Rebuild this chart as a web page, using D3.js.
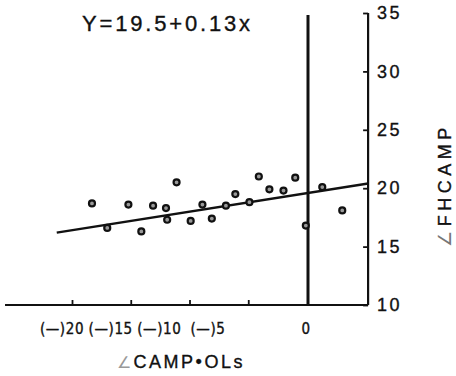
<!DOCTYPE html>
<html>
<head>
<meta charset="utf-8">
<script src="https://cdn.jsdelivr.net/npm/d3@7"></script>
<style>
  body { margin: 0; background: #fff; }
  svg { display: block; }
  text { font-family: "Liberation Sans", Arial, sans-serif; fill: #111; stroke: #111; stroke-width: 0.35px; }
</style>
</head>
<body>
<svg id="chart" width="456" height="376"></svg>
<script>
// data
const pointX = [-18.3, -15.2, -13.1, -12.0, -11.1, -17.0, -14.1, -11.9, -9.9, -8.9, -8.1,
                -6.9, -6.1, -4.9, -4.1, -3.2, -2.0, -1.0, -0.1, 1.3, 3.0];
const pointY = [18.7, 18.6, 18.5, 18.3, 20.5, 16.6, 16.3, 17.3, 17.2, 18.6, 17.4,
                18.5, 19.5, 18.8, 21.0, 19.9, 19.8, 20.9, 16.8, 20.1, 18.1];
const fitX = [-21.3, 5.2];
const fitY = [16.2, 20.4];
const xTicks = [-20, -15, -10, -5, 0];
const xTickLabels = ['(—)20', '(—)15', '(—)10', '(—)5', '0'];
const yTicks = [10, 15, 20, 25, 30, 35];
const xDomain = [-25.7, 5.2];
const yDomain = [10, 35];
const equation = 'Y=19.5+0.13x';

const svg = d3.select('#chart');

const x = d3.scaleLinear().domain([-20, 0]).range([72, 307]);
const y = d3.scaleLinear().domain(yDomain).range([305, 13]);

// labels under the x axis are typed closer together than the ticks
const labelX = d3.scaleLinear().domain([-20, -5]).range([62, 208]);

// x axis: ticks pointing up
let xAxis = svg.append('g')
    .attr('transform', `translate(0, ${y(10)})`)
    .call(d3.axisBottom(x).tickValues(xTicks.slice(0, 4)).tickSize(-5).tickFormat(''));
xAxis.select('.domain').remove();
xAxis.selectAll('line').attr('stroke', '#111').attr('stroke-width', 1.8);

svg.append('line')
    .attr('x1', x(xDomain[0])).attr('x2', x(xDomain[1]))
    .attr('y1', y(10)).attr('y2', y(10))
    .attr('stroke', '#111').attr('stroke-width', 2);

svg.append('g').selectAll('text')
    .data(xTicks)
    .join('text')
        .attr('x', d => d === 0 ? x(0) - 1 : labelX(d))
        .attr('y', 334)
        .attr('text-anchor', 'middle')
        .style('font-family', '"DejaVu Sans Condensed", "DejaVu Sans", sans-serif')
        .style('font-size', '15px')
        .style('letter-spacing', '0.6px')
        .text((d, i) => xTickLabels[i]);

// right axis: ticks inward, labels outside
let yAxis = svg.append('g')
    .attr('transform', `translate(${x(xDomain[1])}, 0)`)
    .call(d3.axisRight(y).tickValues(yTicks).tickSize(-5).tickPadding(9));
yAxis.select('.domain').remove();
yAxis.selectAll('line').attr('stroke', '#111').attr('stroke-width', 1.8);
yAxis.selectAll('text')
    .style('font-family', '"Liberation Sans", Arial, sans-serif')
    .style('font-size', '18px')
    .style('letter-spacing', '2.5px')
    .attr('fill', '#111');

svg.append('line')
    .attr('x1', x(xDomain[1])).attr('x2', x(xDomain[1]))
    .attr('y1', y(35)).attr('y2', y(10))
    .attr('stroke', '#111').attr('stroke-width', 2.2);

// zero line
svg.append('line')
    .attr('x1', x(0) + 1).attr('x2', x(0) + 1)
    .attr('y1', y(35) + 2).attr('y2', y(10))
    .attr('stroke', '#111').attr('stroke-width', 3);

// regression line
svg.append('line')
    .attr('x1', x(fitX[0])).attr('y1', y(fitY[0]))
    .attr('x2', x(fitX[1])).attr('y2', y(fitY[1]))
    .attr('stroke', '#111').attr('stroke-width', 2.4);

// points
svg.append('g').selectAll('circle')
    .data(d3.range(pointX.length))
    .join('circle')
        .attr('cx', i => x(pointX[i]))
        .attr('cy', i => y(pointY[i]))
        .attr('r', 3)
        .attr('fill', '#999')
        .attr('stroke', '#111')
        .attr('stroke-width', 2.2);

// equation
svg.append('text')
    .attr('x', 82).attr('y', 31)
    .attr('textLength', 168)
    .attr('lengthAdjust', 'spacing')
    .style('font-size', '22px')
    .text(equation);

// axis titles
let xTitle = svg.append('text')
    .attr('x', 181).attr('y', 368)
    .attr('text-anchor', 'middle')
    .style('font-size', '18px')
    .style('letter-spacing', '2.5px');
xTitle.append('tspan').attr('fill', '#999').style('stroke', '#999').style('stroke-width', '0px').style('font-size', '16px').text('∠');
xTitle.append('tspan').text('CAMP•OLs');

let yTitle = svg.append('text')
    .attr('transform', 'translate(451, 185) rotate(-90)')
    .attr('text-anchor', 'middle')
    .style('font-size', '18px')
    .style('letter-spacing', '4.5px');
yTitle.append('tspan').attr('fill', '#777').style('stroke', '#777').style('stroke-width', '0px').text('∠');
yTitle.append('tspan').text('FHCAMP');
</script>
</body>
</html>
